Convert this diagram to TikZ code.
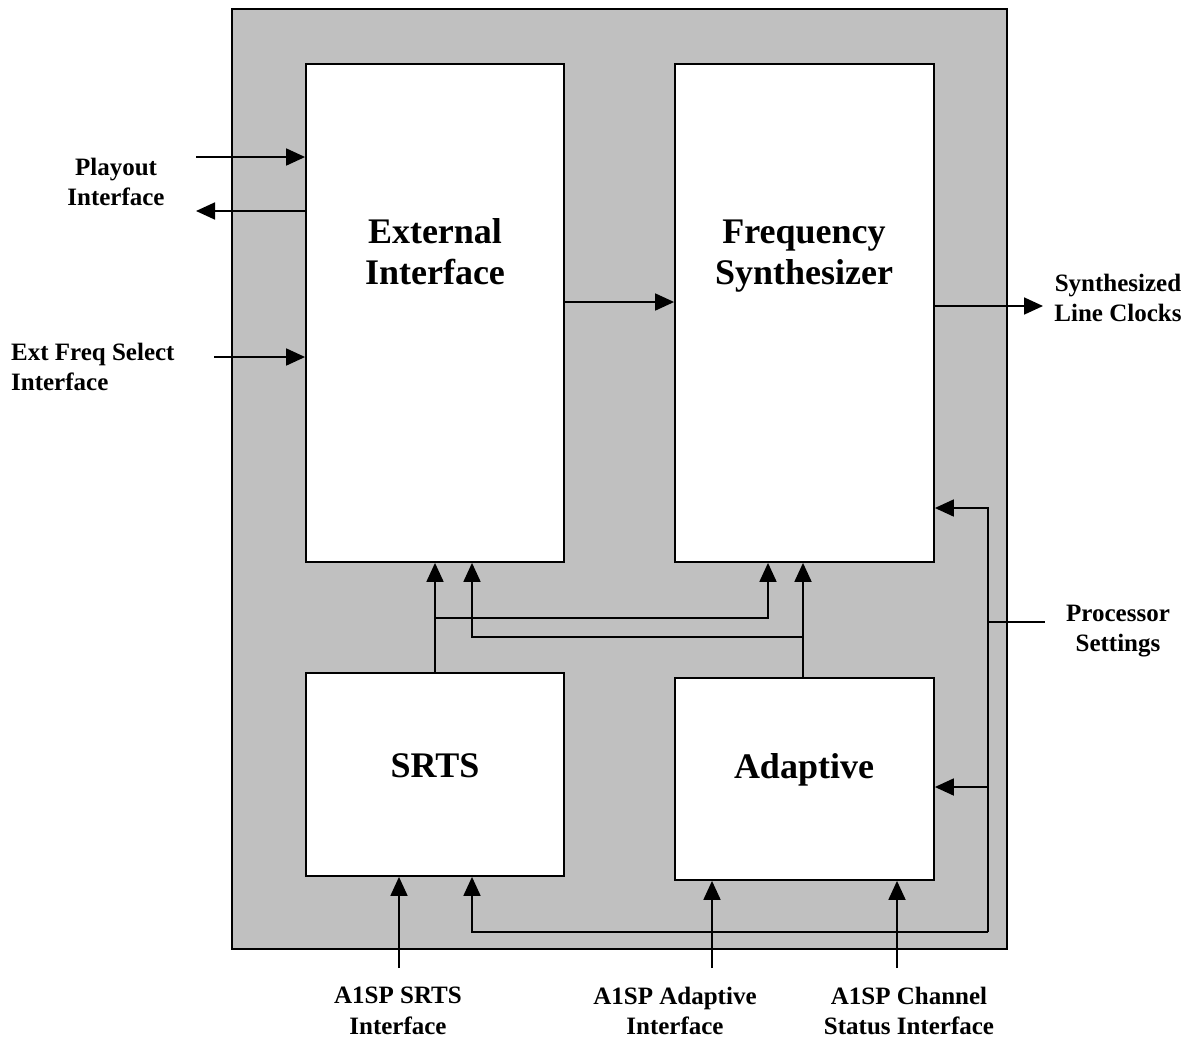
\documentclass[tikz,border=0pt]{standalone}
\usepackage{fontspec}
\setmainfont{Liberation Serif}
\usetikzlibrary{arrows.meta}
\definecolor{boxgray}{HTML}{C0C0C0}
\begin{document}
\begin{tikzpicture}[x=1pt,y=-1pt,
  blk/.style={draw=black,line width=1.8pt,fill=white,inner sep=0pt,align=center,
    font=\fontsize{36}{41}\selectfont\bfseries},
  lbl/.style={align=center,font=\fontsize{25}{30.5}\selectfont\bfseries,inner sep=0pt},
  arr/.style={line width=1.8pt,-{Triangle[length=19pt,width=17pt]}},
  ln/.style={line width=1.8pt}]
\useasboundingbox (0,0) rectangle (1189,1039);
\fill[white] (0,0) rectangle (1189,1039);
\node[draw=black,line width=1.8pt,fill=boxgray,minimum width=775pt,minimum height=940pt,inner sep=0pt] (frame) at (619.5,479) {};
\node[blk,minimum width=258pt,minimum height=498pt] (EI) at (435,313) {};
\node[blk,minimum width=259pt,minimum height=498pt] (FS) at (804.5,313) {};
\node[blk,minimum width=258pt,minimum height=203pt] (SR) at (435,774.5) {};
\node[blk,minimum width=259pt,minimum height=202pt] (AD) at (804.5,779) {};
\node[blk,draw=none,fill=none] (EIt) at (435,252) {External\\Interface};
\node[blk,draw=none,fill=none] (FSt) at (804,256.5) {Frequency\\Synthesizer};
\node[blk,draw=none,fill=none] (SRt) at (435,766) {SRTS};
\node[blk,draw=none,fill=none] (ADt) at (804,770) {Adaptive};
% labels
\node[lbl] (play) at (116,182) {Playout\\Interface};
\node[lbl,align=left,anchor=west] (ext) at (11,367) {Ext Freq Select\\Interface};
\node[lbl] (syn) at (1118,298) {Synthesized\\Line Clocks};
\node[lbl] (proc) at (1118,631) {Processor\\Settings};
\node[lbl] (l1) at (398,1011) {A1SP SRTS\\Interface};
\node[lbl] (l2) at (675,1011) {A1SP Adaptive\\Interface};
\node[lbl] (l3) at (909,1011) {A1SP Channel\\Status Interface};
% coordinates
\coordinate (pin) at (196,157);
\coordinate (pout) at (196,211);
\coordinate (efs) at (214,357);
\coordinate (syno) at (1043,306);
\coordinate (j1) at (435,618);
\coordinate (j1r) at (768,618);
\coordinate (j2) at (472,637);
\coordinate (j2r) at (803,637);
\coordinate (pt) at (988,508);
\coordinate (pm) at (988,622);
\coordinate (pe) at (1045,622);
\coordinate (pa) at (988,787);
\coordinate (pb) at (988,932);
\coordinate (pbl) at (472,932);
\coordinate (b1) at (399,968);
\coordinate (b2) at (712,968);
\coordinate (b3) at (897,968);
% arrows
\draw[arr] (pin) -- (EI.west |- pin);
\draw[arr] (EI.west |- pout) -- (pout);
\draw[arr] (efs) -- (EI.west |- efs);
\draw[arr] (EI.east |- 0,302) -- (FS.west |- 0,302);
\draw[arr] (FS.east |- syno) -- (syno);
\draw[arr] (SR.north) -- (EI.south);
\draw[arr] (j1) -- (j1r) -- (FS.south -| j1r);
\draw[arr] (j2r) -- (j2) -- (EI.south -| j2);
\draw[arr] (AD.north -| j2r) -- (FS.south -| j2r);
\draw[arr] (pb) -- (pt) -- (FS.east |- pt);
\draw[ln] (pm) -- (pe);
\draw[arr] (pa) -- (AD.east |- pa);
\draw[arr] (pb) -- (pbl) -- (SR.south -| pbl);
\draw[arr] (b1) -- (SR.south -| b1);
\draw[arr] (b2) -- (AD.south -| b2);
\draw[arr] (b3) -- (AD.south -| b3);
\end{tikzpicture}
\end{document}
